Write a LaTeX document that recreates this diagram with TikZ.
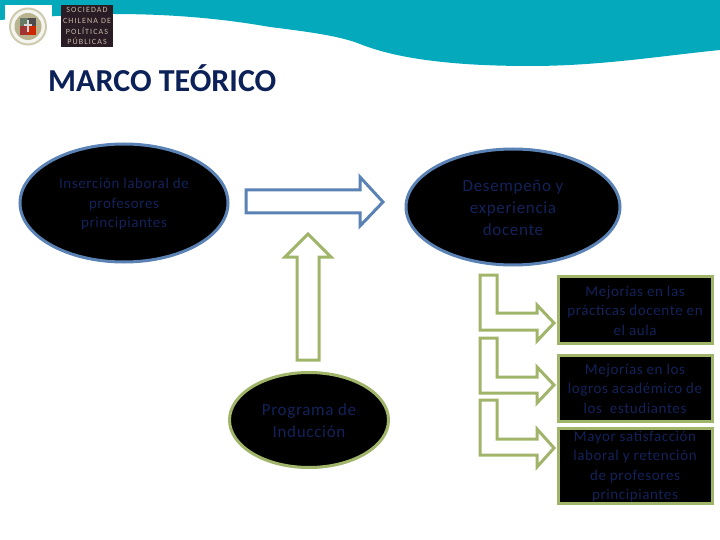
\documentclass[tikz,border=0pt]{standalone}
\usepackage{fontspec}
\setmainfont{Carlito}
\newfontfamily\spacedfont[LetterSpace=4]{Carlito}
\newfontfamily\logofont[LetterSpace=14]{Carlito}
\usetikzlibrary{shapes.geometric}
\definecolor{teal}{HTML}{04A9BC}
\definecolor{navy}{HTML}{0B2158}
\definecolor{dimtxt}{HTML}{13225A}
\definecolor{bluee}{HTML}{5B82B5}
\definecolor{greene}{HTML}{A0B56A}
\definecolor{logobg}{HTML}{2A1C24}
\definecolor{logotxt}{HTML}{C9B8A8}
\definecolor{sealring}{HTML}{CFCBB0}
\definecolor{sealin}{HTML}{B9B48F}
\tikzset{
  blob/.style={ellipse,fill=black,line width=3pt,inner sep=0pt},
  blueblob/.style={blob,draw=bluee},
  greenblob/.style={blob,draw=greene},
  smalltxt/.style={text=dimtxt,align=center,font=\spacedfont\fontsize{15}{19.5}\selectfont},
  largetxt/.style={text=dimtxt,align=center,font=\spacedfont\fontsize{17}{22}\selectfont},
  resultbox/.style={rectangle,draw=greene,fill=black,line width=3pt,inner sep=0pt,smalltxt,
     minimum width=154pt},
  bluearrow/.style={draw=bluee,line width=3pt,fill=white,miter limit=10},
  greenarrow/.style={draw=greene,line width=3pt,fill=white,miter limit=10},
  logotext/.style={text=logotxt,inner sep=0pt,font=\logofont\fontsize{8}{9}\selectfont},
}
\begin{document}
\begin{tikzpicture}[x=1pt,y=-1pt]
\useasboundingbox (0,0) rectangle (720,540);
\fill[white] (0,0) rectangle (720,540);
\fill[teal] (0,0) -- (0,20) .. controls (40,17) and (80,14) .. (113,14)
  .. controls (180,14) and (230,20) .. (270,27)
  .. controls (310,32) and (340,36) .. (360,44)
  .. controls (390,56) and (440,66) .. (530,66)
  .. controls (600,66) and (660,56) .. (720,50) -- (720,0) -- cycle;
\fill[white] (5,5) rectangle (52,47);
\fill[logobg] (61,5) rectangle (113,47);
\node[logotext] (l1) at (87,10) {SOCIEDAD};
\node[logotext] (l2) at (87,20.5) {CHILENA DE};
\node[logotext] (l3) at (87,31) {POLÍTICAS};
\node[logotext] (l4) at (87,41.5) {PÚBLICAS};
\filldraw[fill=white!80!sealring,draw=sealring,line width=2pt] (28,26.5) circle (18);
\fill[sealin] (28,26.5) circle (13.5);
\fill[gray!70!green!40!black!70] (20,18) rectangle (28,26);
\fill[black!70] (28,18) rectangle (36,26);
\fill[red!55!black!80] (20,26) rectangle (28,35);
\fill[red!60!orange!80!black] (28,26) rectangle (36,35);
\fill[white!70!gray] (27,20) rectangle (29,32);
\fill[white!70!gray] (24,24) rectangle (32,26);
\node[anchor=west,inner sep=0pt,text=navy,font=\bfseries\fontsize{32}{36}\selectfont] (title) at (48,78) {MARCO TEÓRICO};

\node[blueblob,minimum width=208pt,minimum height=118pt] (ins) at (124,203) {};
\node[blueblob,minimum width=214pt,minimum height=116pt] (des) at (513,207) {};
\node[greenblob,minimum width=159pt,minimum height=95pt] (pro) at (309,420) {};
\node[smalltxt] (inst) at (124,204.5) {Inserción laboral de\\profesores\\principiantes};
\node[largetxt] (dest) at (513,207.5) {Desempeño y\\experiencia\\docente};
\node[largetxt] (prot) at (309,420.5) {Programa de\\Inducción};

\draw[bluearrow] (246,190) -- (360,190) -- (360,177) -- (383,202) -- (360,226) -- (360,213) -- (246,213) -- cycle;
\draw[greenarrow] (297,360) -- (297,257) -- (285,257) -- (308,234) -- (331,257) -- (319,257) -- (319,360) -- cycle;

\node[resultbox,minimum height=67pt] (b1) at (635,309.5) {};
\node[resultbox,minimum height=66pt] (b2) at (635,388) {};
\node[resultbox,minimum height=75pt] (b3) at (635,465.5) {};
\node[smalltxt] (t1) at (635,310.5) {Mejorías en las\\prácticas docente en\\el aula};
\node[smalltxt] (t2) at (635,388.5) {Mejorías en los\\logros académico de\\los\ \ estudiantes};
\node[smalltxt] (t3) at (635,466.5) {Mayor satisfacción\\laboral y retención\\de profesores\\principiantes};

\draw[greenarrow] (480,275) -- (497,275) -- (497,313) -- (537,313) -- (537,305) -- (554,323) -- (537,341) -- (537,330) -- (480,330) -- cycle;
\draw[greenarrow] (480,338) -- (497,338) -- (497,377) -- (537,377) -- (537,367) -- (554,385) -- (537,403) -- (537,393) -- (480,393) -- cycle;
\draw[greenarrow] (480,400) -- (497,400) -- (497,439) -- (537,439) -- (537,429) -- (554,448) -- (537,467) -- (537,455) -- (480,455) -- cycle;
\end{tikzpicture}
\end{document}
